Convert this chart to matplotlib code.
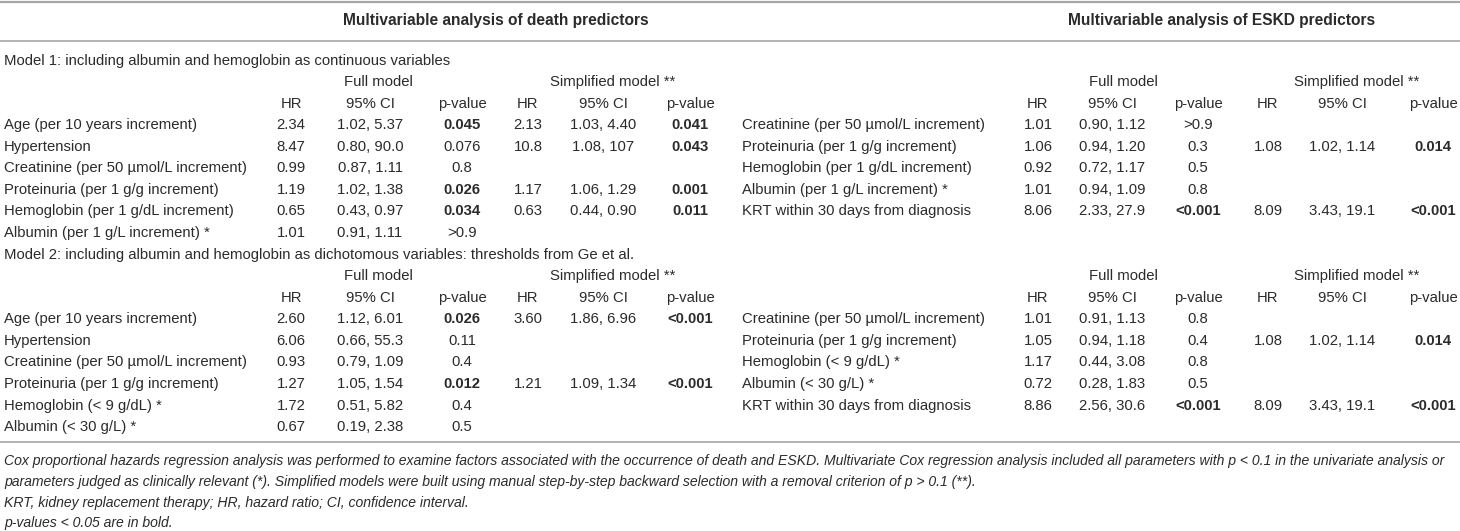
import matplotlib
matplotlib.use("Agg")
import matplotlib.pyplot as plt

# ---------------------------------------------------------------------------
# Table data
# ---------------------------------------------------------------------------

death_title = "Multivariable analysis of death predictors"
eskd_title = "Multivariable analysis of ESKD predictors"

model1_caption = "Model 1: including albumin and hemoglobin as continuous variables"
model2_caption = ("Model 2: including albumin and hemoglobin as dichotomous variables: "
                  "thresholds from Ge et al.")

col_headers = ["HR", "95% CI", "p-value", "HR", "95% CI", "p-value"]
group_headers = ["Full model", "Simplified model **"]

# death, model 1
d1_labels = ["Age (per 10 years increment)", "Hypertension",
             "Creatinine (per 50 µmol/L increment)", "Proteinuria (per 1 g/g increment)",
             "Hemoglobin (per 1 g/dL increment)", "Albumin (per 1 g/L increment) *"]
d1_hr = ["2.34", "8.47", "0.99", "1.19", "0.65", "1.01"]
d1_ci = ["1.02, 5.37", "0.80, 90.0", "0.87, 1.11", "1.02, 1.38", "0.43, 0.97", "0.91, 1.11"]
d1_p = ["0.045", "0.076", "0.8", "0.026", "0.034", ">0.9"]
d1_hr_s = ["2.13", "10.8", "", "1.17", "0.63", ""]
d1_ci_s = ["1.03, 4.40", "1.08, 107", "", "1.06, 1.29", "0.44, 0.90", ""]
d1_p_s = ["0.041", "0.043", "", "0.001", "0.011", ""]

# death, model 2
d2_labels = ["Age (per 10 years increment)", "Hypertension",
             "Creatinine (per 50 µmol/L increment)", "Proteinuria (per 1 g/g increment)",
             "Hemoglobin (< 9 g/dL) *", "Albumin (< 30 g/L) *"]
d2_hr = ["2.60", "6.06", "0.93", "1.27", "1.72", "0.67"]
d2_ci = ["1.12, 6.01", "0.66, 55.3", "0.79, 1.09", "1.05, 1.54", "0.51, 5.82", "0.19, 2.38"]
d2_p = ["0.026", "0.11", "0.4", "0.012", "0.4", "0.5"]
d2_hr_s = ["3.60", "", "", "1.21", "", ""]
d2_ci_s = ["1.86, 6.96", "", "", "1.09, 1.34", "", ""]
d2_p_s = ["<0.001", "", "", "<0.001", "", ""]

# ESKD, model 1
e1_labels = ["Creatinine (per 50 µmol/L increment)", "Proteinuria (per 1 g/g increment)",
             "Hemoglobin (per 1 g/dL increment)", "Albumin (per 1 g/L increment) *",
             "KRT within 30 days from diagnosis"]
e1_hr = ["1.01", "1.06", "0.92", "1.01", "8.06"]
e1_ci = ["0.90, 1.12", "0.94, 1.20", "0.72, 1.17", "0.94, 1.09", "2.33, 27.9"]
e1_p = [">0.9", "0.3", "0.5", "0.8", "<0.001"]
e1_hr_s = ["", "1.08", "", "", "8.09"]
e1_ci_s = ["", "1.02, 1.14", "", "", "3.43, 19.1"]
e1_p_s = ["", "0.014", "", "", "<0.001"]

# ESKD, model 2
e2_labels = ["Creatinine (per 50 µmol/L increment)", "Proteinuria (per 1 g/g increment)",
             "Hemoglobin (< 9 g/dL) *", "Albumin (< 30 g/L) *",
             "KRT within 30 days from diagnosis"]
e2_hr = ["1.01", "1.05", "1.17", "0.72", "8.86"]
e2_ci = ["0.91, 1.13", "0.94, 1.18", "0.44, 3.08", "0.28, 1.83", "2.56, 30.6"]
e2_p = ["0.8", "0.4", "0.8", "0.5", "<0.001"]
e2_hr_s = ["", "1.08", "", "", "8.09"]
e2_ci_s = ["", "1.02, 1.14", "", "", "3.43, 19.1"]
e2_p_s = ["", "0.014", "", "", "<0.001"]

footnotes = [
    "Cox proportional hazards regression analysis was performed to examine factors associated "
    "with the occurrence of death and ESKD. Multivariate Cox regression analysis included all "
    "parameters with p < 0.1 in the univariate analysis or",
    "parameters judged as clinically relevant (*). Simplified models were built using manual "
    "step-by-step backward selection with a removal criterion of p > 0.1 (**).",
    "KRT, kidney replacement therapy; HR, hazard ratio; CI, confidence interval.",
    "p-values < 0.05 are in bold.",
]

# ---------------------------------------------------------------------------
# Layout (pixel coordinates, y downwards)
# ---------------------------------------------------------------------------

W, H = 1460, 531
FS = 10.7
FS_NOTE = 10.1   # the original footnote font is a condensed italic
TXT = "#2b2b2b"
RULE = "#a6a6a6"
FONT = ["Liberation Sans", "DejaVu Sans"]

death_x = dict(label=4, cols=[291, 370, 462, 528, 603, 690], groups=[378, 613], title=496)
eskd_x = dict(label=742, cols=[1038, 1112, 1198, 1268, 1342, 1433], groups=[1123, 1357], title=1222)

ROW = 21.57
Y0 = 60.5  # "Model 1" caption


def is_bold(p):
    if not p or p.startswith(">"):
        return False
    return float(p.lstrip("<")) < 0.05


def txt(ax, x, y, s, ha="center", **kw):
    kw.setdefault("color", TXT)
    kw.setdefault("fontsize", FS)
    return ax.text(x, y, s, ha=ha, va="center", family=FONT, **kw)


def draw_block(ax, pos, y_start, labels, cols):
    # group headers + column headers
    for gx, g in zip(pos["groups"], group_headers):
        txt(ax, gx, y_start, g)
    for cx, h in zip(pos["cols"], col_headers):
        txt(ax, cx, y_start + ROW, h)
    for i, lab in enumerate(labels):
        y = y_start + ROW * (i + 2)
        txt(ax, pos["label"], y, lab, ha="left")
        for j, (cx, vals) in enumerate(zip(pos["cols"], cols)):
            v = vals[i]
            if not v:
                continue
            bold = j in (2, 5) and is_bold(v)
            txt(ax, cx, y, v, fontweight="bold" if bold else "normal")


fig = plt.figure(figsize=(W / 100, H / 100), dpi=100)
ax = fig.add_axes([0, 0, 1, 1])
ax.set_xlim(0, W)
ax.set_ylim(H, 0)
ax.axis("off")

# rules
for yy, lw in [(1.5, 1.6), (40.5, 1.2), (442, 1.2)]:
    ax.plot([0, W], [yy, yy], color=RULE, lw=lw, solid_capstyle="butt")

# titles
txt(ax, death_x["title"], 20.5, death_title, fontweight="bold", fontsize=11.2)
txt(ax, eskd_x["title"], 20.5, eskd_title, fontweight="bold", fontsize=11.2)

# model 1
txt(ax, 4, Y0, model1_caption, ha="left")
draw_block(ax, death_x, Y0 + ROW, d1_labels, [d1_hr, d1_ci, d1_p, d1_hr_s, d1_ci_s, d1_p_s])
draw_block(ax, eskd_x, Y0 + ROW, e1_labels, [e1_hr, e1_ci, e1_p, e1_hr_s, e1_ci_s, e1_p_s])

# model 2
y2 = Y0 + ROW * 9
txt(ax, 4, y2, model2_caption, ha="left")
draw_block(ax, death_x, y2 + ROW, d2_labels, [d2_hr, d2_ci, d2_p, d2_hr_s, d2_ci_s, d2_p_s])
draw_block(ax, eskd_x, y2 + ROW, e2_labels, [e2_hr, e2_ci, e2_p, e2_hr_s, e2_ci_s, e2_p_s])

# footnotes
for k, line in enumerate(footnotes):
    txt(ax, 4, 461.5 + 20.5 * k, line, ha="left", style="italic", fontsize=FS_NOTE)

fig.savefig("out.png", dpi=100)
plt.close(fig)
